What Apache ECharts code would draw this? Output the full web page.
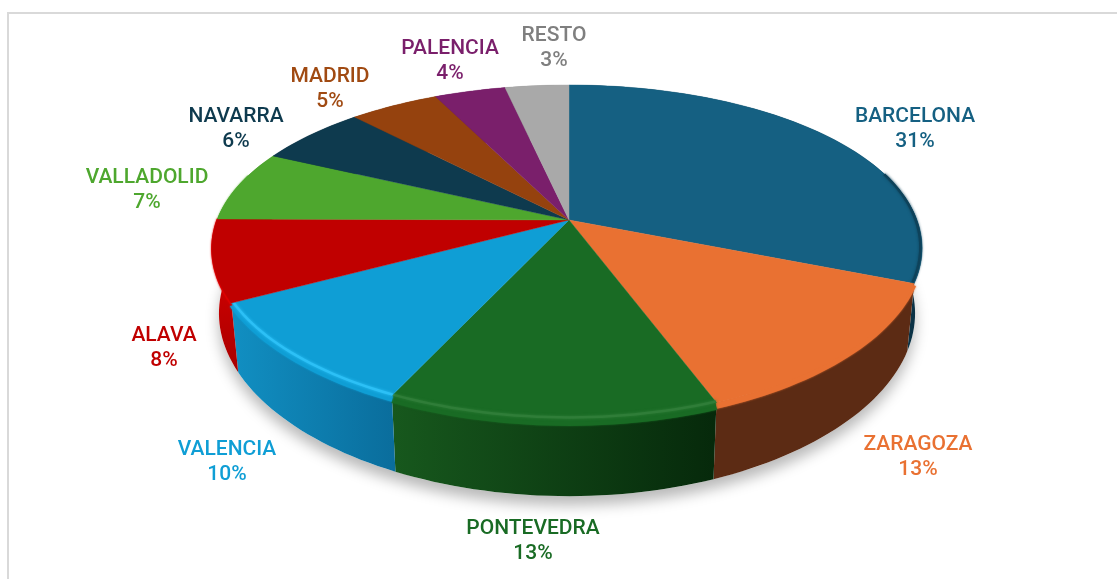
<!DOCTYPE html>
<html>
<head>
<meta charset="utf-8">
<style>html,body{margin:0;padding:0;background:#fff}#chart{width:1117px;height:579px}</style>
<script src="https://cdn.jsdelivr.net/npm/echarts@6/dist/echarts.min.js"></script>
</head>
<body>
<div id="chart"></div>
<script>
const categories = ['BARCELONA','ZARAGOZA','PONTEVEDRA','VALENCIA','ALAVA','VALLADOLID','NAVARRA','MADRID','PALENCIA','RESTO'];
const shares = [31,13.2,12.8,10.2,7.9,7,5.9,4.8,3.8,3.4];

const topColors = ['#156082','#E97132','#196B24','#0F9ED5','#C00000','#4EA72E','#0E3A4E','#95420E','#7A1F6B','#A9A9A9'];
const labelColors = ['#156082','#E97132','#196B24','#0F9ED5','#C00000','#4EA72E','#0E3A4E','#A04A12','#7A1F6B','#7F7F7F'];
const wallFills = [
  [1,0,'#0e3f56','#0b3245'],[1,0,'#5c2b14','#5c2b14'],[1,0,'#17581d','#06290b'],
  [1,0,'#118fc2','#0a6d9c'],[0,1,'#e40000','#a80000'],[1,0,'#3c8a22','#3c8a22'],
  [1,0,'#0a2a38','#0a2a38'],[1,0,'#6e300a','#6e300a'],[1,0,'#5a1650','#5a1650'],[1,0,'#808080','#808080']
];
const bevelColors = [null,'#E97132','#196B24','#0F9ED5','#dc0000','#58b436',null,null,null,null];
const glintColors = ['#0e425a',null,'#2f7d38','#2cc0f6',null,null,null,null,null,null];
const labelCentres = [[915,129],[918,457],[533,541],[227,462],[164,348],[147,190],[236,129],[330,89],[450,61],[554,48]];

const centre = [569,220], radiusRight = 348, radiusLeft = 352, radiusY = 160.7, perspY = 0.19, perspX = 0.17, wallDepth = 63, wallShrink = 0.98;
const total = shares.reduce((a,b)=>a+b,0);

function rimPoint(frac){
  const t = frac*2*Math.PI, u = Math.sin(t), v = -Math.cos(t), s = 1/(1-perspY*v), sx = 1/(1-perspX*v);
  return {x:centre[0]+(u<0?radiusLeft:radiusRight)*u*sx, y:centre[1]+radiusY*v*s, s, v};
}
function basePoint(p){
  return [centre[0]+(p.x-centre[0])*wallShrink, p.y+wallDepth*p.s];
}
function arc(a,b){
  const n = Math.max(4,Math.ceil((b-a)*240)), out=[];
  for(let i=0;i<=n;i++) out.push(rimPoint(a+(b-a)*i/n));
  return out;
}
function bounds(i){
  let a=0; for(let k=0;k<i;k++) a+=shares[k];
  return [a/total,(a+shares[i])/total];
}
const seriesData = categories.map((name,i)=>({name,value:shares[i]}));

function renderShadow(params){
  if(params.dataIndex!==0) return null;
  const pts = arc(0,1).map(basePoint);
  return {type:'polygon',shape:{points:pts},silent:true,
    style:{fill:'#fff',shadowColor:'rgba(0,0,0,0.28)',shadowBlur:14,shadowOffsetY:9}};
}
function renderWall(params){
  const i=params.dataIndex,[a,b]=bounds(i),rim=arc(a,b);
  const pts=rim.map(p=>[p.x,p.y]).concat(rim.slice().reverse().map(basePoint));
  const g=wallFills[i];
  return {type:'polygon',shape:{points:pts},
    style:{fill:new echarts.graphic.LinearGradient(0,0,g[0],g[1],[{offset:0,color:g[2]},{offset:1,color:g[3]}])}};
}
function renderBevel(params){
  const i=params.dataIndex,[a,b]=bounds(i),rim=arc(a,b);
  if(!bevelColors[i]) return null;
  const vis=rim.filter(p=>p.v>-0.3);
  if(vis.length<2) return null;
  return {type:'polyline',shape:{points:vis.map(p=>{
      const f=Math.max(0,p.v), g=0.997;
      return [centre[0]+(p.x-centre[0])*g, p.y+f*3.5];
    })},
    style:{fill:null,stroke:bevelColors[i],lineWidth:2+Math.max(0,rim[Math.floor(rim.length/2)].v)*6,
      shadowColor:bevelColors[i],shadowBlur:2}};
}
function renderTop(params){
  const i=params.dataIndex,[a,b]=bounds(i),rim=arc(a,b);
  const pts=[centre].concat(rim.map(p=>[p.x,p.y]));
  const kids=[{type:'polygon',shape:{points:pts},style:{fill:topColors[i],stroke:topColors[i],lineWidth:0.4}}];
  if(glintColors[i]){
    const vis=rim.filter(p=>p.v>-0.3).map(p=>[centre[0]+(p.x-centre[0])*0.995,p.y-1]);
    if(vis.length>1) kids.push({type:'polyline',shape:{points:vis},
      style:{fill:null,stroke:glintColors[i],lineWidth:2.5,shadowColor:glintColors[i],shadowBlur:3}});
  }
  return {type:'group',children:kids};
}
function renderLabel(params,api){
  const i=params.dataIndex,c=labelCentres[i];
  return {type:'text',x:c[0],y:c[1],
    style:{text:categories[i]+'\n'+Math.round(api.value(0))+'%',x:0,y:0,
      align:'center',verticalAlign:'middle',lineHeight:25.5,
      font:'500 21px Roboto, sans-serif',fill:labelColors[i]}};
}
const custom=(name,fn)=>({type:'custom',name,coordinateSystem:'none',renderItem:fn,data:seriesData,encode:{value:0},clip:false,animation:false,silent:true});

const chart=echarts.init(document.getElementById('chart'),null,{renderer:'canvas'});
chart.setOption({
  animation:false,
  backgroundColor:'#ffffff',
  tooltip:{show:false},
  graphic:[
    {type:'rect',shape:{x:7,y:12,width:1110,height:2},style:{fill:'#d9d9d9'},silent:true},
    {type:'rect',shape:{x:7,y:12,width:2,height:567},style:{fill:'#d9d9d9'},silent:true}
  ],
  series:[custom('shadow',renderShadow),custom('walls',renderWall),custom('bevel',renderBevel),custom('tops',renderTop),custom('labels',renderLabel)]
});
</script>
</body>
</html>
